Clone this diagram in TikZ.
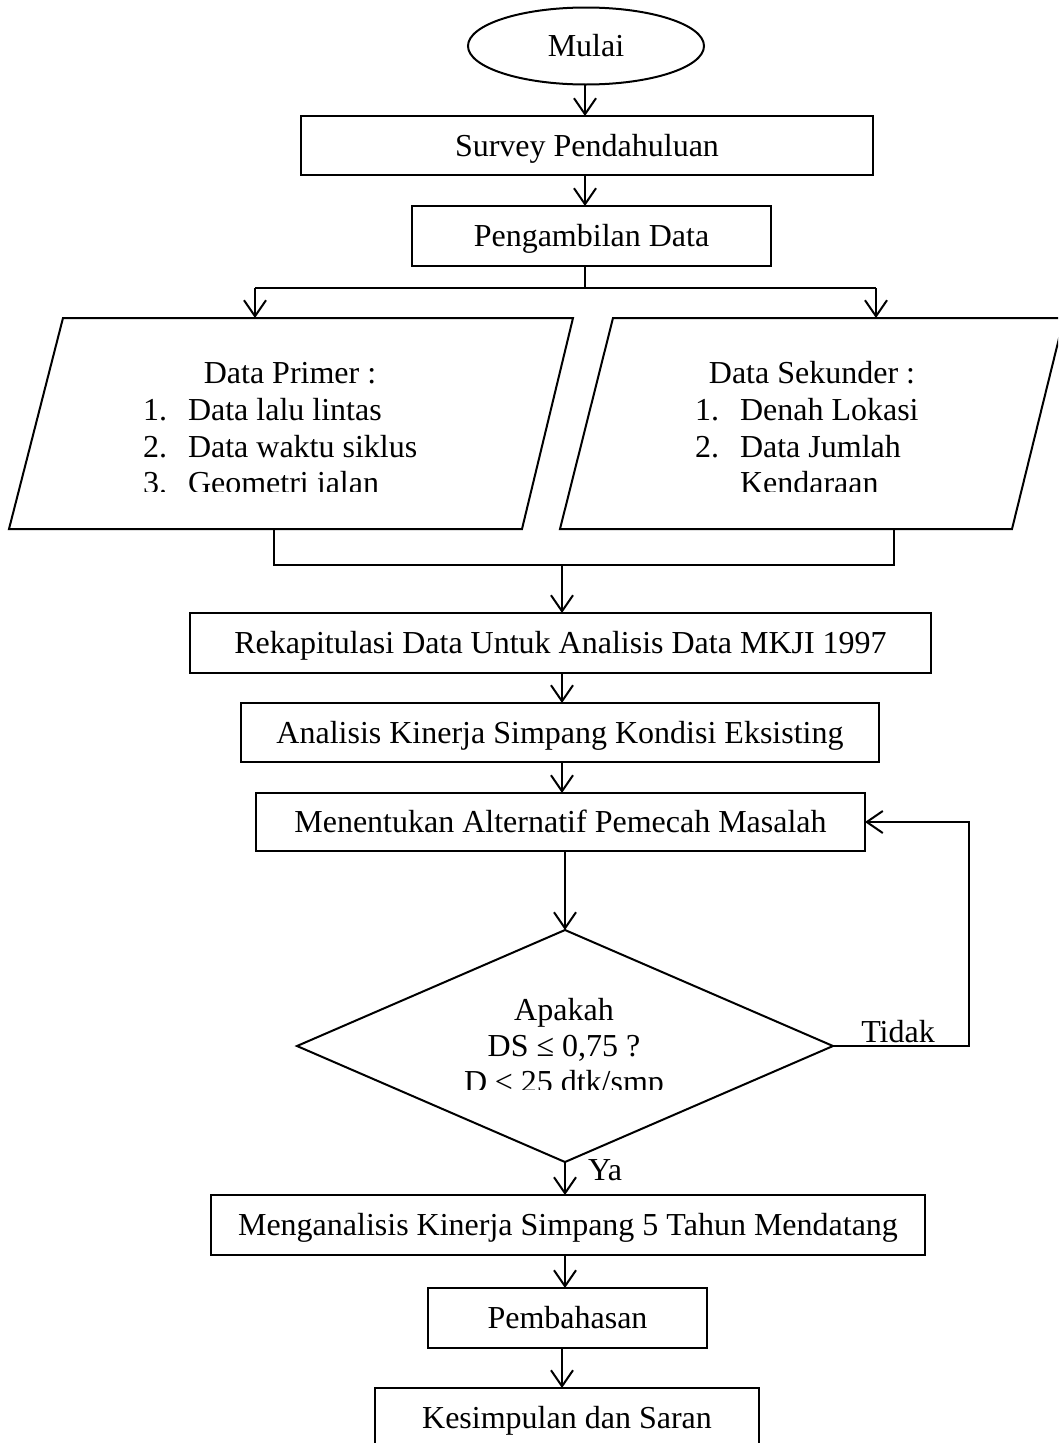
\documentclass[tikz,border=0pt]{standalone}
\usepackage{fontspec}
\setmainfont{Liberation Serif}
\usetikzlibrary{shapes.geometric,arrows.meta}
\newcommand\myfs{\fontsize{32}{36.5}\selectfont}
\begin{document}
\begin{tikzpicture}[x=1pt,y=-1pt,line width=2pt,
  box/.style={draw,rectangle,inner sep=0pt,outer sep=0pt,text height=21pt,text depth=0pt,font=\myfs},
  arr/.style={-{Straight Barb[length=16pt,width=22pt]}},
  lbl/.style={inner sep=0pt,outer sep=0pt,font=\myfs,anchor=base west},
  ttl/.style={inner sep=0pt,outer sep=0pt,font=\myfs,anchor=base}]
\useasboundingbox (0,0) rectangle (1058,1443);
\clip (0,0) rectangle (1058,1443);
\fill[white] (0,0) rectangle (1058,1443);

% x positions of vertical connectors
\coordinate (xa) at (585,0);
\coordinate (xb) at (562,0);
\coordinate (xc) at (565,0);
\coordinate (xl) at (969,0);

% start
\node[draw,ellipse,minimum width=236pt,minimum height=77pt,inner sep=0pt,outer sep=0pt,
      text height=21pt,text depth=0pt,font=\myfs] (mulai) at (586,46) {Mulai};

% process boxes
\node[box,minimum width=572pt,minimum height=59pt] (survey) at (587,145.5) {Survey Pendahuluan};
\node[box,minimum width=359pt,minimum height=60pt] (ambil) at (591.5,236) {Pengambilan Data};
\node[box,minimum width=741pt,minimum height=60pt] (rekap) at (560.5,643) {Rekapitulasi Data Untuk Analisis Data MKJI 1997};
\node[box,minimum width=638pt,minimum height=59pt] (anal) at (560,732.5) {Analisis Kinerja Simpang Kondisi Eksisting};
\node[box,minimum width=609pt,minimum height=58pt] (ment) at (560.5,822) {Menentukan Alternatif Pemecah Masalah};
\node[box,minimum width=714pt,minimum height=60pt] (mengan) at (568,1225) {Menganalisis Kinerja Simpang 5 Tahun Mendatang};
\node[box,minimum width=279pt,minimum height=60pt] (pemb) at (567.5,1318) {Pembahasan};
\node[box,minimum width=384pt,minimum height=60pt] (kes) at (567,1418) {Kesimpulan dan Saran};

% data parallelograms
\draw (63,318) -- (573,318) -- (522,529) -- (9,529) -- cycle;
\draw (613,318) -- (1064,318) -- (1012,529) -- (560,529) -- cycle;
\coordinate (pL) at (255,318);
\coordinate (pR) at (876,318);
\coordinate (mL) at (274,529);
\coordinate (mR) at (894,529);

\begin{scope}
  \clip (0,0) rectangle (1058,491);
  \node[ttl] (prim) at (290,383) {Data Primer :};
  \node[lbl] (p1n) at (143,420) {1.};
  \node[lbl] (p1) at (188,420) {Data lalu lintas};
  \node[lbl] (p2n) at (143,457) {2.};
  \node[lbl] (p2) at (188,457) {Data waktu siklus};
  \node[lbl] (p3n) at (143,493) {3.};
  \node[lbl] (p3) at (188,493) {Geometri jalan};
  \node[ttl] (sek) at (812,383) {Data Sekunder :};
  \node[lbl] (s1n) at (695,420) {1.};
  \node[lbl] (s1) at (740,420) {Denah Lokasi};
  \node[lbl] (s2n) at (695,457) {2.};
  \node[lbl] (s2) at (740,457) {Data Jumlah};
  \node[lbl] (s3) at (740,493) {Kendaraan};
\end{scope}

% decision
\node[draw,diamond,minimum width=536pt,minimum height=232pt,inner sep=0pt,outer sep=0pt] (dec) at (565,1046) {};
\begin{scope}
  \clip (0,0) rectangle (1058,1089);
  \node[ttl] (q1) at (564,1020) {Apakah};
  \node[ttl] (q2) at (564,1056) {DS ≤ 0,75 ?};
  \node[ttl] (q3) at (564,1092) {D ≤ 25 dtk/smp};
\end{scope}
\node[ttl] (tidak) at (898,1042) {Tidak};
\node[lbl] (ya) at (588,1180) {Ya};

% connectors
\draw[arr] (mulai.south -| xa) -- (survey.north -| xa);
\draw[arr] (survey.south -| xa) -- (ambil.north -| xa);
\coordinate (sp) at (585,288);
\draw (ambil.south -| xa) -- (sp);
\draw (pL |- sp) -- (pR |- sp);
\draw[arr] (pL |- sp) -- (pL);
\draw[arr] (pR |- sp) -- (pR);
\coordinate (mj) at (562,565);
\draw (mL) -- (mL |- mj) -- (mR |- mj) -- (mR);
\draw[arr] (mj) -- (rekap.north -| mj);
\draw[arr] (rekap.south -| xb) -- (anal.north -| xb);
\draw[arr] (anal.south -| xb) -- (ment.north -| xb);
\draw[arr] (dec.north |- ment.south) -- (dec.north);
\draw[arr] (dec.south) -- (dec.south |- mengan.north);
\draw[arr] (dec.east) -- (dec.east -| xl) -- (ment.east -| xl) -- (ment.east);
\draw[arr] (mengan.south -| xc) -- (pemb.north -| xc);
\draw[arr] (pemb.south -| xb) -- (kes.north -| xb);
\end{tikzpicture}
\end{document}
